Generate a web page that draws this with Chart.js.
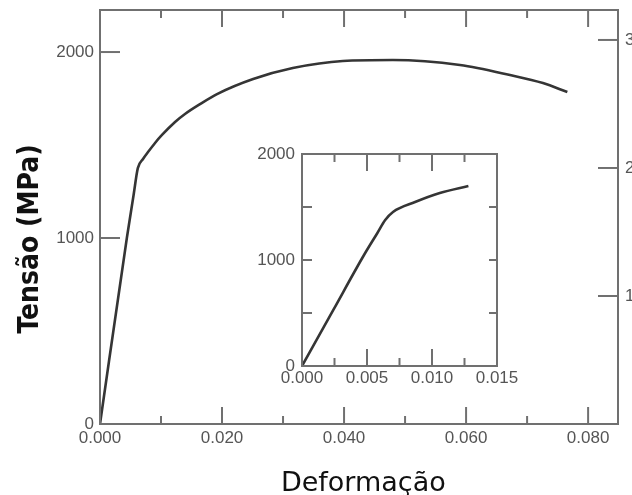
<!DOCTYPE html>
<html>
<head>
<meta charset="utf-8">
<script src="https://cdn.jsdelivr.net/npm/chart.js@4"></script>
<style>
  html, body { margin: 0; padding: 0; background: #fff; }
  #wrap { position: relative; width: 632px; height: 495px; }
  #mainChart { position: absolute; left: 0; top: 0; }
  #insetChart { position: absolute; left: 250px; top: 140px; }
</style>
</head>
<body>
<div id="wrap">
  <canvas id="mainChart" width="632" height="495"></canvas>
  <canvas id="insetChart" width="280" height="260"></canvas>
</div>
<script>
// Curva tensao x deformacao (grafico principal)
const mainStrain = [0, 0.0044, 0.0055, 0.0062, 0.00705, 0.00787, 0.00902, 0.01016, 0.0123, 0.01393, 0.01639, 0.01918, 0.0251, 0.0316, 0.0398, 0.0480, 0.0590, 0.0672, 0.0726, 0.0766];
const mainStress = [0, 1000, 1230, 1376, 1425, 1462, 1511, 1554, 1624, 1667, 1720, 1774, 1855, 1914, 1952, 1957, 1930, 1876, 1833, 1785];

// Detalhe da regiao elastica (grafico interno)
const insetStrain = [0, 0.0024, 0.00477, 0.0058, 0.0064, 0.0070, 0.0087, 0.0106, 0.0128];
const insetStress = [0, 527, 1047, 1255, 1377, 1453, 1547, 1632, 1698];

// Rotulos e marcas dos eixos
const mainXLabels = [0, 0.02, 0.04, 0.06, 0.08];
const mainXMinor = [0.01, 0.03, 0.05, 0.07];
const mainYLabels = [0, 1000, 2000];
const mainYMarks = [1000, 2000];
const rightYLabels = [1, 2, 3];
const insetXLabels = [0, 0.005, 0.010, 0.015];
const insetXMajor = [0.005, 0.010];
const insetXMinor = [0.0025, 0.0075, 0.0125];
const insetYLabels = [0, 1000, 2000];
const insetYMarks = [500, 1000, 1500];

const AXIS_GRAY = "#707070";
const LABEL_GRAY = "#555555";
const CURVE = "#353535";
const tickFont = { family: "Liberation Sans", size: 17 };

function toPoints(xs, ys) {
  return xs.map((x, i) => ({ x: x, y: ys[i] }));
}

function fixedTicks(values) {
  return function (scale) {
    scale.ticks = values.map((v) => ({ value: v }));
  };
}

function fixSize(prop, size) {
  return function (scale) {
    scale[prop] = size;
    scale.paddingTop = 0;
    scale.paddingBottom = 0;
    scale.paddingLeft = 0;
    scale.paddingRight = 0;
  };
}

// moldura + marcas internas dos eixos
const frameTicks = {
  id: "frameTicks",
  afterDraw(chart, args, opts) {
    const ctx = chart.ctx;
    const a = chart.chartArea;
    ctx.save();
    ctx.strokeStyle = opts.color;
    ctx.lineWidth = opts.width;
    ctx.strokeRect(a.left, a.top, a.right - a.left, a.bottom - a.top);
    (opts.marks || []).forEach((m) => {
      const s = chart.scales[m.scale];
      m.values.forEach((v) => {
        const p = s.getPixelForValue(v);
        ctx.beginPath();
        if (m.side === "bottom") {
          ctx.moveTo(p, a.bottom);
          ctx.lineTo(p, a.bottom - m.len);
        } else if (m.side === "top") {
          ctx.moveTo(p, a.top);
          ctx.lineTo(p, a.top + m.len);
        } else if (m.side === "left") {
          ctx.moveTo(a.left, p);
          ctx.lineTo(a.left + m.len, p);
        } else {
          ctx.moveTo(a.right, p);
          ctx.lineTo(a.right - m.len, p);
        }
        ctx.stroke();
      });
    });
    ctx.restore();
  },
};

const noGrid = { display: false, drawTicks: false };
const noBorder = { display: false };
const plainLabel = (v) => String(v);
const strainLabel = (v) => Number(v).toFixed(3);

new Chart(document.getElementById("mainChart").getContext("2d"), {
  type: "line",
  data: {
    datasets: [
      {
        data: toPoints(mainStrain, mainStress),
        borderColor: CURVE,
        borderWidth: 2.6,
        pointRadius: 0,
        cubicInterpolationMode: "monotone",
        fill: false,
      },
    ],
  },
  plugins: [frameTicks],
  options: {
    responsive: false,
    animation: false,
    devicePixelRatio: 1,
    layout: { padding: { left: 0, right: 0, top: 10, bottom: 0 } },
    plugins: {
      legend: { display: false },
      tooltip: { enabled: false },
      frameTicks: {
        color: AXIS_GRAY,
        width: 2,
        marks: [
          { scale: "x", side: "bottom", values: mainXLabels, len: 17 },
          { scale: "x", side: "bottom", values: mainXMinor, len: 8 },
          { scale: "x", side: "top", values: mainXLabels, len: 17 },
          { scale: "x", side: "top", values: mainXMinor, len: 8 },
          { scale: "y", side: "left", values: mainYMarks, len: 20 },
          { scale: "y2", side: "right", values: rightYLabels, len: 20 },
        ],
      },
    },
    scales: {
      x: {
        type: "linear",
        position: "bottom",
        min: 0,
        max: 0.0849,
        afterBuildTicks: fixedTicks(mainXLabels),
        afterFit: fixSize("height", 71),
        grid: noGrid,
        border: noBorder,
        ticks: {
          font: tickFont,
          color: LABEL_GRAY,
          padding: 4,
          maxRotation: 0,
          autoSkip: false,
          callback: strainLabel,
        },
        title: {
          display: true,
          text: " Deformação",
          color: "#111",
          font: { family: "DejaVu Sans", size: 27, lineHeight: 1 },
          padding: { top: 0, bottom: -2 },
        },
      },
      y: {
        type: "linear",
        position: "left",
        min: 0,
        max: 2226,
        afterBuildTicks: fixedTicks(mainYLabels),
        afterFit: fixSize("width", 100),
        grid: noGrid,
        border: noBorder,
        ticks: { font: tickFont, color: LABEL_GRAY, padding: 6, callback: plainLabel },
        title: {
          display: true,
          text: "Tensão (MPa)     ",
          color: "#111",
          font: { family: "DejaVu Sans Condensed", size: 28, weight: "bold" },
          padding: { top: 14, bottom: 0 },
        },
      },
      y2: {
        type: "linear",
        position: "right",
        min: 0,
        max: 3.234,
        afterBuildTicks: fixedTicks(rightYLabels),
        afterFit: fixSize("width", 14),
        grid: noGrid,
        border: noBorder,
        ticks: { font: tickFont, color: LABEL_GRAY, padding: 7, callback: plainLabel },
      },
    },
  },
});

new Chart(document.getElementById("insetChart").getContext("2d"), {
  type: "line",
  data: {
    datasets: [
      {
        data: toPoints(insetStrain, insetStress),
        borderColor: CURVE,
        borderWidth: 2.6,
        pointRadius: 0,
        cubicInterpolationMode: "monotone",
        fill: false,
      },
    ],
  },
  plugins: [frameTicks],
  options: {
    responsive: false,
    animation: false,
    devicePixelRatio: 1,
    layout: { padding: { left: 0, right: 33, top: 14, bottom: 0 } },
    plugins: {
      legend: { display: false },
      tooltip: { enabled: false },
      frameTicks: {
        color: AXIS_GRAY,
        width: 2,
        marks: [
          { scale: "x", side: "bottom", values: insetXMajor, len: 17 },
          { scale: "x", side: "bottom", values: insetXMinor, len: 8 },
          { scale: "x", side: "top", values: insetXMajor, len: 17 },
          { scale: "x", side: "top", values: insetXMinor, len: 8 },
          { scale: "y", side: "left", values: insetYMarks, len: 10 },
          { scale: "y", side: "right", values: insetYMarks, len: 8 },
        ],
      },
    },
    scales: {
      x: {
        type: "linear",
        position: "bottom",
        min: 0,
        max: 0.015,
        afterBuildTicks: fixedTicks(insetXLabels),
        afterFit: fixSize("height", 34),
        grid: noGrid,
        border: noBorder,
        ticks: {
          font: tickFont,
          color: LABEL_GRAY,
          padding: 2,
          maxRotation: 0,
          autoSkip: false,
          callback: strainLabel,
        },
      },
      y: {
        type: "linear",
        position: "left",
        min: 0,
        max: 2000,
        afterBuildTicks: fixedTicks(insetYLabels),
        afterFit: fixSize("width", 52),
        grid: noGrid,
        border: noBorder,
        ticks: { font: tickFont, color: LABEL_GRAY, padding: 7, callback: plainLabel },
      },
    },
  },
});
</script>
</body>
</html>
